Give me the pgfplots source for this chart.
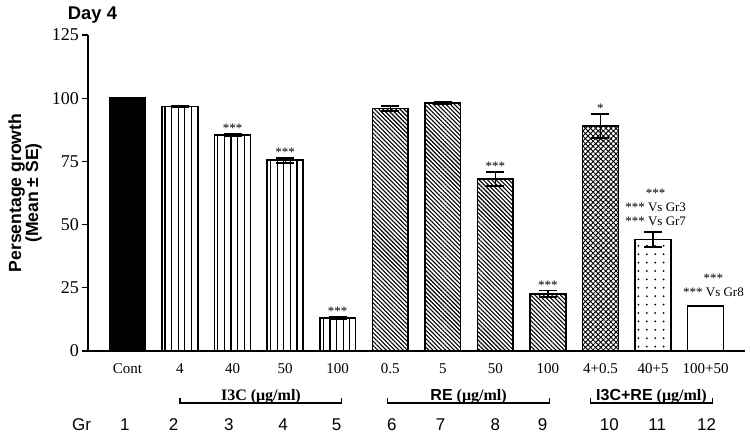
\documentclass[border=0pt]{standalone}
\usepackage{fontspec}
\setmainfont{Liberation Serif}
\newfontfamily\arial{Liberation Sans}
\usepackage{pgfplots}
\pgfplotsset{compat=1.18}
\usetikzlibrary{patterns.meta}

\pgfplotsset{
  gbar/.style={ybar, bar width=0.68, bar shift=0pt, draw=black, line width=0.75pt, mark=none,
    error bars/y dir=both, error bars/y explicit,
    error bars/error bar style={line width=0.6pt, black},
    error bars/error mark options={line width=0.9pt, mark size=4.5pt, rotate=90, black}},
}
\newcommand{\sig}{\fontsize{6.5}{7}\selectfont}

\begin{document}
\begin{tikzpicture}
\useasboundingbox (-44pt,-44pt) rectangle (331pt,175.5pt);
\begin{axis}[
  scale only axis, width=328.5pt, height=158pt,
  at={(0,0)}, anchor=south west,
  xmin=-0.75, xmax=11.75, ymin=0, ymax=125,
  axis x line*=bottom, axis y line*=left,
  axis line style={line width=0.7pt},
  xtick={0,...,11},
  xticklabels={Cont,4,40,50,100,0.5,5,50,100,4+0.5,40+5,100+50},
  x tick label style={font=\fontsize{7.5}{9}\selectfont, anchor=base, yshift=-8pt},
  xtick style={draw=none},
  ytick={0,25,50,75,100,125},
  y tick label style={font=\fontsize{9}{10}\selectfont, xshift=2pt},
  ytick style={line width=0.6pt, black},
  /pgf/number format/assume math mode=true,
  tick align=outside, major tick length=3pt,
  ylabel={Persentage growth\\(Mean ± SE)},
  ylabel style={font=\arial\bfseries\fontsize{8.8}{8.5}\selectfont, align=center,
    at={(axis description cs:-0.0959,0.5)}, anchor=center},
  clip=false,
]
\addplot[gbar, fill=black] coordinates {(0,100)};
\addplot[gbar, pattern={Lines[angle=90,distance=3.3pt,line width=0.55pt]}]
  coordinates {(1,96.8) +- (0,0.3) (2,85.5) +- (0,0.5) (3,75.5) +- (0,1.0) (4,13.1) +- (0,0.3)};
\addplot[gbar, pattern={Lines[angle=-45,distance=1.5pt,line width=0.55pt]}]
  coordinates {(5,95.9) +- (0,0.9) (6,98.1) +- (0,0.3) (7,68.0) +- (0,2.8) (8,22.6) +- (0,1.3)};
\addplot[gbar, pattern={Hatch[angle=45,distance=1.8pt,line width=0.45pt]}]
  coordinates {(9,89.0) +- (0,4.9)};
\addplot[gbar, pattern={Dots[distance=4.2pt,radius=0.5pt]}]
  coordinates {(10,44.1) +- (0,3.0)};
\addplot[gbar, fill=white] coordinates {(11,17.8) +- (0,0.2)};

% significance marks
\begin{scope}[every node/.style={font=\sig, anchor=south, inner sep=0pt, align=center}]
\node[yshift=0.5pt] at (axis cs:2,86.0) {***};
\node[yshift=0.5pt] at (axis cs:3,76.5) {***};
\node[yshift=0.5pt] at (axis cs:4,13.4) {***};
\node[yshift=0.5pt] at (axis cs:7,70.8) {***};
\node[yshift=0.5pt] at (axis cs:8,23.9) {***};
\node[yshift=0.5pt] at (axis cs:9,93.9) {*};
\node[yshift=3pt] at (axis cs:10.05,47.1) {***\\*** Vs Gr3\\*** Vs Gr7};
\node[yshift=4pt] at (axis cs:11.15,18.0) {***\\*** Vs Gr8};
\end{scope}

% group brackets
\draw[line width=0.6pt] ([yshift=-23.5pt]axis cs:1.0,0) |- ([yshift=-26pt]axis cs:4.08,0) -- ([yshift=-23.5pt]axis cs:4.08,0);
\draw[line width=0.6pt] ([yshift=-23.5pt]axis cs:4.95,0) |- ([yshift=-26pt]axis cs:8.03,0) -- ([yshift=-23.5pt]axis cs:8.03,0);
\draw[line width=0.6pt] ([yshift=-23.5pt]axis cs:8.81,0) |- ([yshift=-26pt]axis cs:11.13,0) -- ([yshift=-23.5pt]axis cs:11.13,0);
\begin{scope}[every node/.style={anchor=base, inner sep=0pt, font=\fontsize{8}{9}\selectfont\bfseries}]
\node at ([yshift=-24.5pt]axis cs:2.54,0) {I3C (μg/ml)};
\node at ([yshift=-24.5pt]axis cs:6.49,0) {{\arial RE} (μg/ml)};
\node at ([yshift=-24.5pt]axis cs:9.97,0) {{\arial I3C+RE} (μg/ml)};
\end{scope}

% group numbers
\begin{scope}[every node/.style={anchor=base, inner sep=0pt, font=\arial\fontsize{8.5}{10}\selectfont}]
\node at ([yshift=-39.5pt]axis cs:-0.87,0) {Gr};
\node at ([yshift=-39.5pt]axis cs:-0.05,0) {1};
\node at ([yshift=-39.5pt]axis cs:0.88,0) {2};
\node at ([yshift=-39.5pt]axis cs:1.93,0) {3};
\node at ([yshift=-39.5pt]axis cs:2.96,0) {4};
\node at ([yshift=-39.5pt]axis cs:3.98,0) {5};
\node at ([yshift=-39.5pt]axis cs:5.03,0) {6};
\node at ([yshift=-39.5pt]axis cs:5.96,0) {7};
\node at ([yshift=-39.5pt]axis cs:7.0,0) {8};
\node at ([yshift=-39.5pt]axis cs:7.9,0) {9};
\node at ([yshift=-39.5pt]axis cs:9.17,0) {10};
\node at ([yshift=-39.5pt]axis cs:10.08,0) {11};
\node at ([yshift=-39.5pt]axis cs:11.02,0) {12};
\end{scope}

\node[font=\arial\bfseries\fontsize{9.2}{11}\selectfont, anchor=center]
  at ([xshift=2.25pt,yshift=10pt]axis description cs:0,1) {Day 4};
\end{axis}
\end{tikzpicture}
\end{document}
